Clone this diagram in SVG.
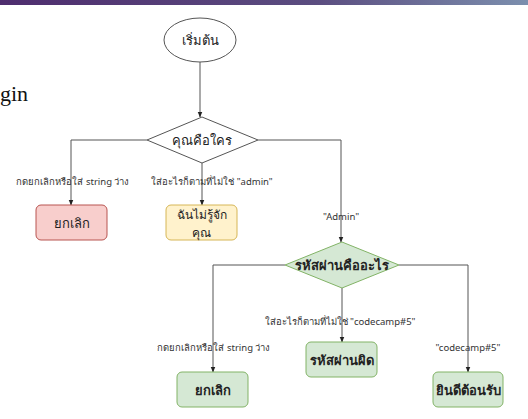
<svg xmlns="http://www.w3.org/2000/svg" width="528" height="419" viewBox="0 0 528 419">
<defs>
<linearGradient id="bar" x1="0" y1="0" x2="1" y2="0">
<stop offset="0" stop-color="#4e2d6e"/>
<stop offset="0.6" stop-color="#5b4d80"/>
<stop offset="1" stop-color="#7c8fae"/>
</linearGradient>
<marker id="arr" viewBox="0 0 10 10" refX="9" refY="5" markerWidth="6" markerHeight="6" orient="auto" markerUnits="userSpaceOnUse">
<path d="M0,1 L10,5 L0,9 z" fill="#222"/>
</marker>
<style>
.edge{fill:none;stroke:#555;stroke-width:1;marker-end:url(#arr)}
.lbl{font-family:"Noto Sans","DejaVu Sans",sans-serif;font-size:9.5px;fill:#333;text-anchor:middle}
.nt{font-family:"Noto Sans","DejaVu Sans",sans-serif;font-size:13px;fill:#222;text-anchor:middle;dominant-baseline:central}
.sm{font-size:12px}
.b{font-weight:bold}
.red{fill:#f8cecc;stroke:#b85450}
.yel{fill:#fff2cc;stroke:#d6b656}
.grn{fill:#d5e8d4;stroke:#82b366}
</style>
</defs>
<rect width="528" height="419" fill="#ffffff"/>
<rect x="0" y="0" width="528" height="5" fill="url(#bar)"/>
<text x="0" y="101" font-family="Liberation Serif, serif" font-size="22" fill="#111">gin</text>

<g id="connectors">
<path class="edge" d="M200,62 V117"/>
<path class="edge" d="M147,140 H71 V205"/>
<path class="edge" d="M202,163 V205"/>
<path class="edge" d="M258,140 H341 V242"/>
<path class="edge" d="M285,265 H213 V372"/>
<path class="edge" d="M342,288 V342"/>
<path class="edge" d="M399,265 H468 V372"/>
<text class="lbl" x="73" y="185">กดยกเลิกหรือใส่ string ว่าง</text>
<text class="lbl" x="212" y="185">ใส่อะไรก็ตามที่ไม่ใช่ "admin"</text>
<text class="lbl" x="341" y="220">"Admin"</text>
<text class="lbl" x="214" y="351">กดยกเลิกหรือใส่ string ว่าง</text>
<text class="lbl" x="340" y="325">ใส่อะไรก็ตามที่ไม่ใช่ "codecamp#5"</text>
<text class="lbl" x="468" y="351">"codecamp#5"</text>
</g>

<g id="start">
<ellipse cx="200" cy="40" rx="36" ry="22" fill="#fff" stroke="#555"/>
<text class="nt" x="200" y="40">เริ่มต้น</text>
</g>
<g id="who">
<polygon points="202,117 258,140 202,163 147,140" fill="#fff" stroke="#555"/>
<text class="nt" x="202" y="140">คุณคือใคร</text>
</g>
<g id="cancel1">
<rect class="red" x="36" y="205" width="71" height="35" rx="5"/>
<text class="nt" x="71.5" y="222.5">ยกเลิก</text>
</g>
<g id="unknown">
<rect class="yel" x="166" y="205" width="71" height="35" rx="5"/>
<text class="nt sm" x="201.5" y="214">ฉันไม่รู้จัก</text>
<text class="nt sm" x="201.5" y="232">คุณ</text>
</g>
<g id="password">
<polygon points="342,242 399,265 342,288 285,265" class="grn"/>
<text class="nt b" x="342" y="265">รหัสผ่านคืออะไร</text>
</g>
<g id="cancel2">
<rect class="grn" x="177" y="372" width="71" height="35" rx="5"/>
<text class="nt b" x="212.5" y="389.5">ยกเลิก</text>
</g>
<g id="wrong">
<rect class="grn" x="306" y="342" width="71" height="35" rx="5"/>
<text class="nt b" x="341.5" y="359.5">รหัสผ่านผิด</text>
</g>
<g id="welcome">
<rect class="grn" x="433" y="372" width="70" height="35" rx="5"/>
<text class="nt b" x="468" y="389.5">ยินดีต้อนรับ</text>
</g>
</svg>
